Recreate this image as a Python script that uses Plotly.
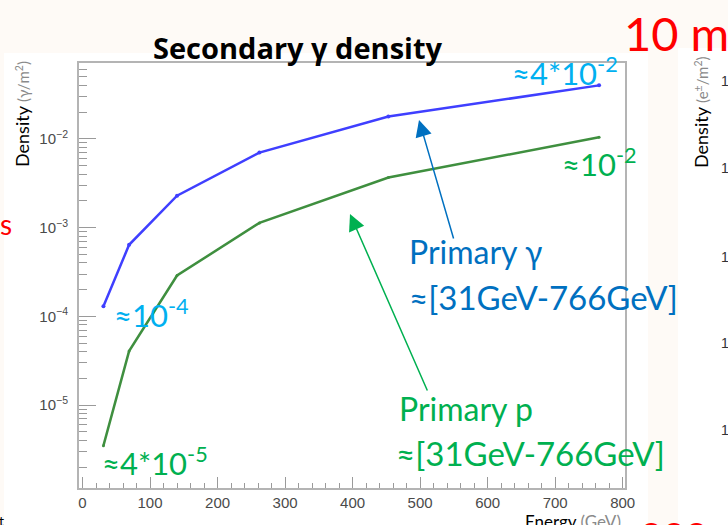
import plotly.graph_objects as go

# Primary energies (GeV) and secondary photon densities (photons / m^2)
energy_gev = [31, 69, 140, 262, 453, 765]
density_primary_gamma = [1.30e-4, 6.4e-4, 2.29e-3, 7.0e-3, 1.78e-2, 4.0e-2]
density_primary_proton = [3.5e-6, 4.07e-5, 2.89e-4, 1.13e-3, 3.67e-3, 1.04e-2]

x_major = [0, 100, 200, 300, 400, 500, 600, 700, 800]
y_major = [1e-5, 1e-4, 1e-3, 1e-2]
y_major_text = ["10<sup>−5</sup>", "10<sup>−4</sup>", "10<sup>−3</sup>", "10<sup>−2</sup>"]

W, H = 728, 525
L, R, T, B = 79, 625, 63, 488   # plot frame in pixels


def px(x):
    return (x - L) / (R - L)


def py(y):
    return (B - y) / (B - T)


# log-scale minor ticks 2..9 per decade
y_minor = [m * 10.0 ** e for e in range(-6, -1) for m in range(2, 10)]
y_minor = [v for v in y_minor if 1.2e-6 < v < 0.071]

fig = go.Figure()
fig.add_trace(go.Scatter(
    x=energy_gev, y=density_primary_gamma, mode="lines+markers",
    line=dict(color="#3f3fff", width=2.5), marker=dict(size=4, color="#3f3fff"),
    showlegend=False, hoverinfo="skip"))
fig.add_trace(go.Scatter(
    x=energy_gev, y=density_primary_proton, mode="lines+markers",
    line=dict(color="#3f8f3f", width=2.5), marker=dict(size=3, color="#3f8f3f"),
    showlegend=False, hoverinfo="skip"))

axis_grey = "#b4b4b4"
tick_font = dict(family="Liberation Sans, Arial, sans-serif", size=15, color="#4a4a4a")

fig.update_xaxes(
    range=[-5.2, 803.4], showgrid=False, zeroline=False,
    showline=True, linecolor=axis_grey, linewidth=2, mirror=True,
    ticks="inside", ticklen=11, tickwidth=1, tickcolor="#9a9a9a",
    tickmode="array", tickvals=x_major, ticktext=[str(v) for v in x_major],
    tickfont=tick_font,
    minor=dict(tickmode="linear", tick0=0, dtick=20, ticks="inside",
               ticklen=5, tickcolor="#9a9a9a", tickwidth=1, showgrid=False),
)
fig.update_yaxes(
    type="log", range=[-5.933, -1.146], showgrid=False, zeroline=False,
    showline=True, linecolor=axis_grey, linewidth=2, mirror=True,
    ticks="inside", ticklen=17, tickwidth=1, tickcolor="#9a9a9a",
    tickmode="array", tickvals=y_major, ticktext=y_major_text,
    tickfont=tick_font, ticklabelstandoff=6,
    minor=dict(tickmode="array", tickvals=y_minor, ticks="inside",
               ticklen=8, tickcolor="#9a9a9a", tickwidth=1, showgrid=False),
)

shapes = [
    # white chart panels on the cream slide background
    dict(type="rect", xref="paper", yref="paper", layer="below",
         x0=px(4), x1=px(648), y0=py(526), y1=py(53),
         fillcolor="white", line=dict(width=0)),
    dict(type="rect", xref="paper", yref="paper", layer="below",
         x0=px(678), x1=px(730), y0=py(526), y1=py(48),
         fillcolor="white", line=dict(width=0)),
]

calibri = "Lato, Open Sans, sans-serif"
ann = []


def text(x, y, s, color, size, xanchor="left", yanchor="middle", angle=0, family=calibri):
    ann.append(dict(xref="paper", yref="paper", x=px(x), y=py(y), text=s,
                    showarrow=False, xanchor=xanchor, yanchor=yanchor,
                    textangle=angle, font=dict(family=family, size=size, color=color)))


# title
text(297, 47, "<b>Secondary γ density</b>", "#000000", 29, xanchor="center",
     family="Open Sans, sans-serif")

# value call-outs
cyan, green, blue, red = "#00b0f0", "#00b050", "#0070c0", "#ff0000"
text(510, 72, "≈4*10<sup>-2</sup>", cyan, 31)
text(560, 162, "≈10<sup>-2</sup>", green, 31)
text(112, 313, "≈10<sup>-4</sup>", cyan, 31)
text(100, 461, "≈4*10<sup>-5</sup>", green, 31)

# primary labels
text(407, 251, "Primary γ", blue, 32)
text(407, 297, "≈[31GeV-766GeV]", blue, 33)
text(397, 408, "Primary p", green, 32)
text(394, 453, "≈[31GeV-766GeV]", green, 33)

# arrows pointing at the curves
ann.append(dict(xref="paper", yref="paper", x=px(419), y=py(120),
                ax=454 - 419, ay=240 - 120, showarrow=True, arrowhead=2,
                arrowsize=2.2, arrowwidth=1.5, arrowcolor=blue, text=""))
ann.append(dict(xref="paper", yref="paper", x=px(350), y=py(214),
                ax=428 - 350, ay=392 - 214, showarrow=True, arrowhead=2,
                arrowsize=2.2, arrowwidth=1.5, arrowcolor=green, text=""))

# axis titles
text(22, 114, "Density <span style='font-size:15px;color:#8a8a8a'>(γ/m<sup>2</sup>)</span>",
     "#000000", 18, xanchor="center", angle=-90)
text(573, 521, "Energy <span style='color:#8a8a8a'>(GeV)</span>",
     "#000000", 17, xanchor="center")

# neighbouring slide content
text(622, 33, "10 m", red, 47)
text(-2, 224, "s", red, 28)
text(-3, 520, "t", "#000000", 14)
text(638, 503, "ooo", red, 40, yanchor="top")
text(701, 112, "Density <span style='font-size:15px;color:#8a8a8a'>(e<sup>±</sup>/m<sup>2</sup>)</span>",
     "#000000", 18, xanchor="center", angle=-90)
for yy in [81, 168, 257, 343, 430]:
    text(719, yy, "1", "#333333", 14, family="Liberation Sans, Arial, sans-serif")

fig.update_layout(
    width=W, height=H,
    margin=dict(l=L, r=W - R, t=T, b=H - B, pad=0),
    paper_bgcolor="#fefaf6", plot_bgcolor="white",
    shapes=shapes, annotations=ann,
)

fig.write_html("out.html")
